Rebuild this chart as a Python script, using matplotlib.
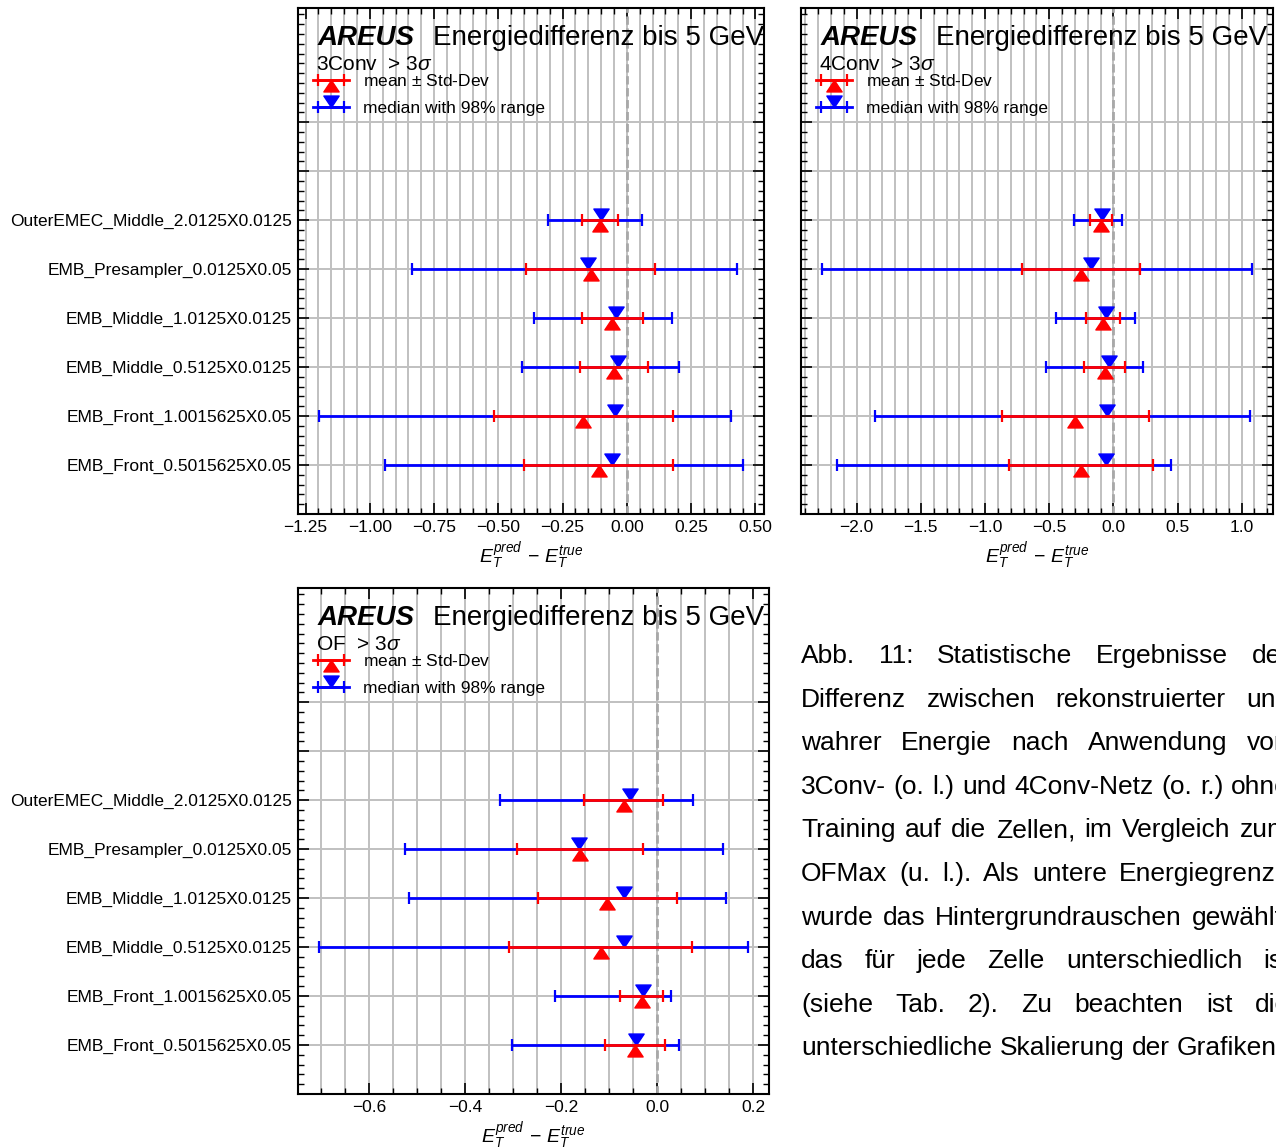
import numpy as np
import matplotlib
matplotlib.use('Agg')
import matplotlib.pyplot as plt
from matplotlib.path import Path
from matplotlib.lines import Line2D
from matplotlib.ticker import AutoMinorLocator
from matplotlib.container import ErrorbarContainer
from matplotlib.legend_handler import HandlerErrorbar

plt.rcParams['font.family'] = 'Liberation Sans'
plt.rcParams['mathtext.fontset'] = 'custom'
plt.rcParams['mathtext.rm'] = 'Liberation Sans'
plt.rcParams['mathtext.it'] = 'Liberation Sans:italic'
plt.rcParams['mathtext.bf'] = 'Liberation Sans:bold'

cells = ['EMB_Front_0.5015625X0.05', 'EMB_Front_1.0015625X0.05',
         'EMB_Middle_0.5125X0.0125', 'EMB_Middle_1.0125X0.0125',
         'EMB_Presampler_0.0125X0.05', 'OuterEMEC_Middle_2.0125X0.0125']

# 3Conv network
conv3_mean = [-0.110, -0.169, -0.050, -0.057, -0.141, -0.103]
conv3_std = [0.291, 0.347, 0.132, 0.119, 0.252, 0.070]
conv3_median = [-0.056, -0.047, -0.034, -0.044, -0.153, -0.101]
conv3_p01 = [-0.942, -1.197, -0.408, -0.360, -0.837, -0.307]
conv3_p99 = [0.451, 0.404, 0.201, 0.175, 0.427, 0.057]

# 4Conv network
conv4_mean = [-0.252, -0.295, -0.066, -0.082, -0.253, -0.095]
conv4_std = [0.560, 0.571, 0.159, 0.133, 0.460, 0.084]
conv4_median = [-0.060, -0.047, -0.034, -0.057, -0.176, -0.091]
conv4_p01 = [-2.150, -1.860, -0.524, -0.446, -2.267, -0.308]
conv4_p99 = [0.453, 1.067, 0.228, 0.171, 1.077, 0.070]

# optimal filter
of_mean = [-0.047, -0.033, -0.118, -0.104, -0.161, -0.070]
of_std = [0.063, 0.045, 0.191, 0.145, 0.131, 0.082]
of_median = [-0.044, -0.030, -0.070, -0.070, -0.164, -0.056]
of_p01 = [-0.302, -0.214, -0.704, -0.517, -0.525, -0.327]
of_p99 = [0.045, 0.029, 0.188, 0.144, 0.137, 0.075]

caption_lines = [
    'Abb. 11: Statistische Ergebnisse der',
    'Differenz zwischen rekonstruierter und',
    'wahrer Energie nach Anwendung von',
    '3Conv- (o. l.) und 4Conv-Netz (o. r.) ohne',
    'Training auf die Zellen, im Vergleich zum',
    'OFMax (u. l.). Als untere Energiegrenze',
    'wurde das Hintergrundrauschen gewählt,',
    'das für jede Zelle unterschiedlich ist',
    '(siehe Tab. 2). Zu beachten ist die',
    'unterschiedliche Skalierung der Grafiken.',
]

W, H = 1276, 1147
fig = plt.figure(figsize=(W / 100, H / 100), dpi=100)


def px_axes(x0, y0, x1, y1):
    return fig.add_axes([x0 / W, 1 - y1 / H, (x1 - x0) / W, (y1 - y0) / H])


# triangles with their tip on the row line
tri_up = Path([(0, 0), (-1, -1.5), (1, -1.5), (0, 0)],
              [Path.MOVETO, Path.LINETO, Path.LINETO, Path.CLOSEPOLY])
tri_down = Path([(0, 0), (-1, 1.5), (1, 1.5), (0, 0)],
                [Path.MOVETO, Path.LINETO, Path.LINETO, Path.CLOSEPOLY])


def draw_panel(ax, tag, mean, std, median, p01, p99, show_labels=True):
    y = np.arange(len(cells))
    mean, std, median = np.array(mean), np.array(std), np.array(median)
    p01, p99 = np.array(p01), np.array(p99)

    ax.axvline(0, color='#a8a8a8', ls=(0, (3, 1.3)), lw=2, zorder=1.5)
    eb_med = ax.errorbar(median, y, xerr=[median - p01, p99 - median],
                         ls='none', marker=tri_down, ms=16.5,
                         color='#0000ff', ecolor='#0000ff', elinewidth=2,
                         capsize=4, capthick=1.6, zorder=3)
    eb_mean = ax.errorbar(mean, y, xerr=std, ls='none', marker=tri_up, ms=16.5,
                          color='#ff0000', ecolor='#ff0000',
                          elinewidth=2, capsize=4, capthick=1.6, zorder=4)

    ax.set_ylim(-1, 9.33)
    ax.set_yticks(range(-1, 8))
    if show_labels:
        ax.set_yticklabels([''] + cells + ['', ''])
    else:
        ax.set_yticklabels([])
    ax.xaxis.set_minor_locator(AutoMinorLocator())
    ax.yaxis.set_minor_locator(AutoMinorLocator(5))
    ax.tick_params(which='both', direction='in', top=True, right=True,
                   labelsize=12.5, pad=4.5)
    ax.tick_params(which='major', length=8, width=1.2)
    ax.tick_params(which='minor', length=4, width=1)
    ax.grid(True, which='both', axis='x', color='#c0c0c0', lw=1.4)
    ax.grid(True, which='major', axis='y', color='#c0c0c0', lw=1.4)
    ax.set_axisbelow(True)
    for s in ax.spines.values():
        s.set_linewidth(1.5)
    ax.set_xlabel(r'$E_T^{pred}\,-\,E_T^{true}$', fontsize=14, labelpad=4)

    ax.annotate('AREUS', (0, 1), xycoords='axes fraction',
                xytext=(20, -37), textcoords='offset pixels',
                fontsize=20, fontweight='bold', fontstyle='italic',
                va='baseline', ha='left')
    ax.annotate('Energiedifferenz bis 5 GeV', (0, 1), xycoords='axes fraction',
                xytext=(135, -37), textcoords='offset pixels',
                fontsize=20, va='baseline', ha='left')
    ax.annotate(tag + r'  > 3$\sigma$', (0, 1), xycoords='axes fraction',
                xytext=(18, -62), textcoords='offset pixels',
                fontsize=15, va='baseline', ha='left')

    w_px = ax.get_position().width * W
    h_px = ax.get_position().height * H
    red_h = (Line2D([], [], color='#ff0000', lw=2), eb_mean)
    blue_h = (Line2D([], [], color='#0000ff', lw=2), eb_med)
    ax.legend([red_h, blue_h], [r'mean $\pm$ Std-Dev', 'median with 98% range'],
              handler_map={ErrorbarContainer: HandlerErrorbar(xerr_size=0.74)},
              loc='upper left', bbox_to_anchor=(15 / w_px, 1 - 65 / h_px),
              borderaxespad=0, borderpad=0, frameon=False, fontsize=12.5,
              handlelength=2.07, handletextpad=0.8, labelspacing=0.66)


ax1 = px_axes(298, 8, 764, 514)
ax2 = px_axes(801, 8, 1273, 514)
ax3 = px_axes(298, 588, 769, 1094)

draw_panel(ax1, '3Conv', conv3_mean, conv3_std, conv3_median, conv3_p01, conv3_p99)
draw_panel(ax2, '4Conv', conv4_mean, conv4_std, conv4_median, conv4_p01, conv4_p99,
           show_labels=False)
draw_panel(ax3, 'OF', of_mean, of_std, of_median, of_p01, of_p99)

# justified caption text beside the lower panel
renderer = fig.canvas.get_renderer()
cap_x0, cap_x1 = 801, 1290
probe_a = fig.text(0, 0, 'x x', fontsize=19)
probe_b = fig.text(0, 0, 'xx', fontsize=19)
space_w = probe_a.get_window_extent(renderer).width - probe_b.get_window_extent(renderer).width
probe_a.remove()
probe_b.remove()
for i, line in enumerate(caption_lines):
    yb = 1 - (663 + i * 43.6) / H
    words = line.split()
    texts = [fig.text(0, yb, w, fontsize=19, va='baseline', ha='left') for w in words]
    widths = [t.get_window_extent(renderer).width for t in texts]
    if i == len(caption_lines) - 1:
        gap = space_w
    else:
        gap = (cap_x1 - cap_x0 - sum(widths)) / (len(words) - 1)
    x = cap_x0
    for t, w in zip(texts, widths):
        t.set_x(x / W)
        x += w + gap

fig.savefig('out.png', dpi=100)
